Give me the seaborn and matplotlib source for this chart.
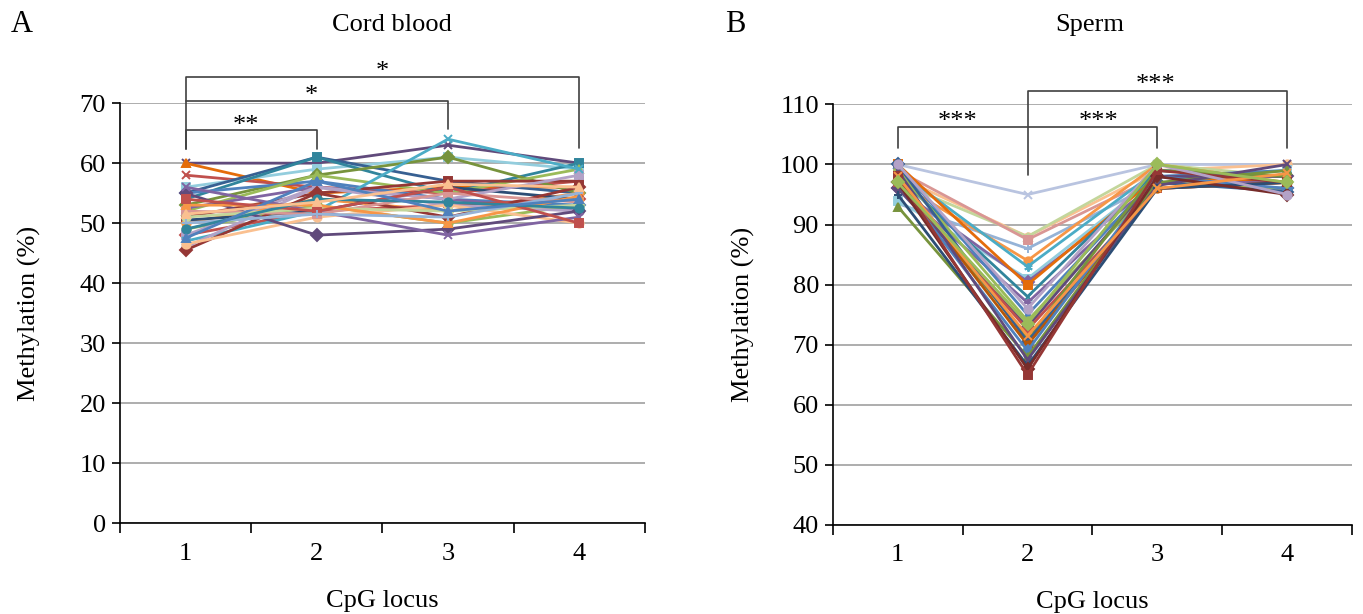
import numpy as np
import pandas as pd
import matplotlib
matplotlib.use('Agg')
import matplotlib.pyplot as plt
import seaborn as sns

# CpG loci on the x axis
loci = [1, 2, 3, 4]

# cord blood, one value per sample at each locus
cord_l1 = [60, 60, 58, 56, 55, 54, 53, 55, 52, 52.5, 51, 50, 50.5, 49, 48,
           48, 47, 46, 45.5, 46.5, 55, 56, 52, 51, 53, 54, 50, 49, 47.5, 51.5]
cord_l2 = [60, 55, 56, 59, 61, 61, 58, 57, 58, 56, 55, 54, 52, 53, 52,
           56, 52, 56, 55, 51, 48, 52, 51.5, 52.5, 53, 52, 51.5, 54, 57, 53.5]
cord_l3 = [63, 56, 55, 61, 57, 55, 61, 54, 55, 54, 57, 52, 56, 50, 53,
           54, 64, 53, 51, 53, 49, 48, 55, 52, 50, 56, 51, 53.5, 52, 56.5]
cord_l4 = [60, 56, 57, 59, 55, 60, 55, 53, 59, 52, 57, 55, 54, 53, 54,
           58, 59, 52, 56, 50, 52, 51, 53.5, 53, 54.5, 50, 55, 52.5, 54, 56]

# sperm
sperm_l1 = [100, 98, 97, 99, 93.5, 97, 99, 94, 96, 100, 98, 96, 100, 99,
            96, 97, 98, 100, 98, 97, 93, 99, 95, 97, 98, 100, 98, 97]
sperm_l2 = [95, 88, 88, 87.5, 86, 84, 83, 81, 80.5, 80, 78, 77, 75, 74,
            73, 72.5, 71, 70.5, 70, 69, 68, 67.5, 66.5, 66, 65, 76, 71.5, 73.5]
sperm_l3 = [100, 99, 100, 98, 97, 100, 99, 98, 97, 98, 99, 97, 98, 97,
            98, 96, 99, 97, 96, 98, 97, 96.5, 96, 98, 99, 100, 96, 100]
sperm_l4 = [100, 100, 98, 97, 96, 97, 98, 99, 96, 97, 98, 97, 99, 96,
            98, 97, 98, 95.5, 97, 96, 99, 100, 97, 95, 97, 95, 98.5, 97]

# Excel style colours / markers, one per sample
STAR = (6, 2, 0)
cord_colors = ['#604A7B', '#E46C0A', '#C0504D', '#93CDDD', '#376092', '#31859C',
               '#77933C', '#4F81BD', '#9BBB59', '#8064A2', '#953735', '#F79646',
               '#2C4D75', '#9BBB59', '#C0504D', '#B3A2C7', '#4BACC6', '#B3A2C7',
               '#953735', '#FAC090', '#604A7B', '#8064A2', '#D99694', '#C3D69B',
               '#F79646', '#C0504D', '#95B3D7', '#31859C', '#4F81BD', '#FAC090']
cord_markers = ['x', '^', 'x', 's', '+', 's', 'D', 'D', '^', 'o', 's', 'o',
                '+', 'o', 'D', 's', 'x', 'o', 'D', 'o', 'D', 'x', 's', 'o',
                '^', 's', '+', 'o', '^', '^']
sperm_colors = ['#B9C4E0', '#FAC090', '#C3D69B', '#D99694', '#95B3D7', '#F79646',
                '#4BACC6', '#93CDDD', '#8064A2', '#E46C0A', '#31859C', '#8064A2',
                '#4F81BD', '#9BBB59', '#604A7B', '#C0504D', '#77933C', '#376092',
                '#B65708', '#4F81BD', '#77933C', '#604A7B', '#2C4D75', '#772C2A',
                '#953735', '#B3A2C7', '#F79646', '#9BBB59']
sperm_markers = ['x', 'o', '^', 's', '+', 'o', STAR, 's', 'D', 's', 'x', '+',
                 '^', 'o', 'D', 's', '^', 'D', 'o', 'D', '^', 'x', '+', 'D',
                 's', 'o', 'x', 'D']


def draw_panel(ax, cols, colors, markers, ymin, ymax):
    n = len(cols[0])
    for i in range(n):
        vals = [col[i] for col in cols]
        sns.lineplot(x=loci, y=vals, color=colors[i], marker=markers[i],
                     markersize=6, markeredgecolor=colors[i],
                     markeredgewidth=1.4, linewidth=2, ax=ax, zorder=3)
    ax.set_xlim(0.5, 4.5)
    ax.set_ylim(ymin, ymax)
    ax.set_yticks(np.arange(ymin, ymax + 1, 10))
    ax.yaxis.grid(True, color='#A0A0A0', lw=1.2)
    ax.xaxis.grid(False)
    ax.set_axisbelow(True)
    ax.set_xticks(loci)
    ax.set_xticks([0.5, 1.5, 2.5, 3.5, 4.5], minor=True)
    ax.tick_params(axis='x', which='major', length=0, pad=14, labelsize=19)
    ax.tick_params(axis='x', which='minor', length=7, width=1.2, direction='out', bottom=True)
    ax.tick_params(axis='y', length=6, width=1.2, direction='out', labelsize=19, pad=4, left=True)
    for side in ['top', 'right']:
        ax.spines[side].set_visible(False)
    for side in ['left', 'bottom']:
        ax.spines[side].set_color('black')
        ax.spines[side].set_linewidth(1.2)
    ax.set_xlabel('CpG locus', fontsize=19, labelpad=18)
    ax.set_ylabel('Methylation (%)', fontsize=19)
    ax.yaxis.set_label_coords(-0.15, 0.5)


def bracket(ax, xs, ys, label=None, lx=None, ly=None):
    ax.plot(xs, ys, color='#404040', lw=1.2, clip_on=False, zorder=5)
    if label:
        ax.text(lx, ly, label, ha='center', va='bottom', fontsize=19, clip_on=False)


sns.set_style('white')
plt.rcParams['font.family'] = ['Liberation Serif', 'DejaVu Serif']
plt.rcParams['text.color'] = 'black'
plt.rcParams['axes.labelcolor'] = 'black'
plt.rcParams['xtick.color'] = 'black'
plt.rcParams['ytick.color'] = 'black'

fig = plt.figure(figsize=(13.63, 6.14), dpi=100)
ax1 = fig.add_axes([0.088, 0.148, 0.385, 0.684])
ax2 = fig.add_axes([0.611, 0.145, 0.381, 0.685])

draw_panel(ax1, [cord_l1, cord_l2, cord_l3, cord_l4], cord_colors, cord_markers, 0, 70)
draw_panel(ax2, [sperm_l1, sperm_l2, sperm_l3, sperm_l4], sperm_colors, sperm_markers, 40, 110)

# significance brackets, cord blood
bracket(ax1, [1, 1, 2, 2], [62.3, 65.5, 65.5, 62.3], '**', 1.46, 64.4)
bracket(ax1, [1, 3, 3], [70.3, 70.3, 65.7], '*', 1.96, 69.4)
bracket(ax1, [1, 1, 4, 4], [62.3, 74.3, 74.3, 62.5], '*', 2.5, 73.4)

# significance brackets, sperm
bracket(ax2, [1, 1, 3, 3], [102.8, 106.2, 106.2, 102.8], '***', 1.46, 105.3)
ax2.text(2.55, 105.3, '***', ha='center', va='bottom', fontsize=19)
bracket(ax2, [2, 2, 4, 4], [98.3, 112.3, 112.3, 102.8], '***', 2.99, 111.4)

fig.text(392 / 1363, 1 - 25 / 614, 'Cord blood', ha='center', va='center', fontsize=19)
fig.text(1090 / 1363, 1 - 25 / 614, 'Sperm', ha='center', va='center', fontsize=19)
fig.text(22 / 1363, 1 - 25 / 614, 'A', ha='center', va='center', fontsize=22)
fig.text(735 / 1363, 1 - 25 / 614, 'B', ha='center', va='center', fontsize=22)

fig.savefig('out.png', dpi=100, facecolor='white')
